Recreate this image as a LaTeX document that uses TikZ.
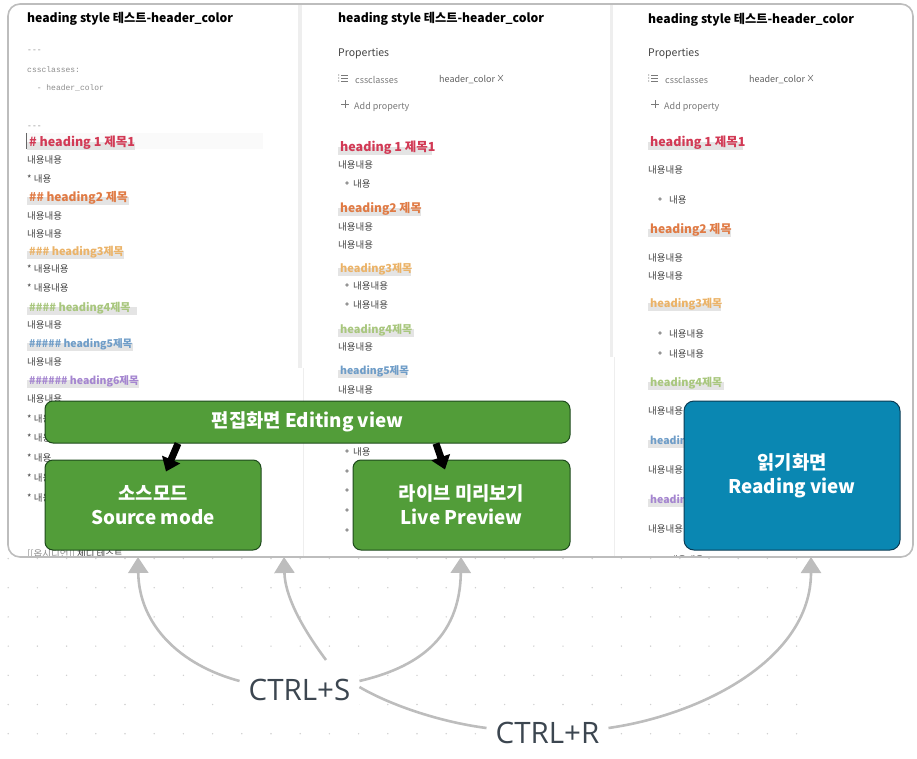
\documentclass[tikz,border=0pt]{standalone}
\usepackage{fontspec}
\setmainfont{Noto Sans CJK KR}
\setmonofont{Liberation Mono}
\newfontfamily\keyfont{Open Sans}
\usetikzlibrary{arrows.meta}
\definecolor{panelline}{HTML}{BDBDBD}
\definecolor{bandgray}{HTML}{E4E4E4}
\definecolor{bodygray}{HTML}{454545}
\definecolor{propgray}{HTML}{7A7A7A}
\definecolor{yamlgray}{HTML}{8E8E8E}
\definecolor{dotgray}{HTML}{D0D0D0}
\definecolor{scrollgray}{HTML}{EEEEEE}
\definecolor{greenfill}{HTML}{529D39}
\definecolor{greenedge}{HTML}{1E4A1C}
\definecolor{bluefill}{HTML}{0A87B2}
\definecolor{blueedge}{HTML}{0B3C55}
\definecolor{keytext}{HTML}{3C4650}
\definecolor{hone}{HTML}{D23A55}
\definecolor{htwo}{HTML}{E07B45}
\definecolor{hthree}{HTML}{EBB368}
\definecolor{hfour}{HTML}{A9C77E}
\definecolor{hfive}{HTML}{6F9DC8}
\definecolor{hsix}{HTML}{A586D0}
\tikzset{
  linetext/.style={anchor=base west,inner sep=0pt,yshift=-4.5pt},
  notetitle/.style={linetext,font=\fontsize{12.2}{15}\selectfont\bfseries,text=black},
  bodytext/.style={linetext,font=\fontsize{9.5}{11}\selectfont,text=bodygray},
  yamltext/.style={linetext,font=\fontsize{8}{10}\selectfont\ttfamily,text=yamlgray},
  proptext/.style={linetext,font=\fontsize{9}{11}\selectfont,text=propgray},
  headtext/.style={linetext,font=\fontsize{#1}{14}\selectfont\bfseries},
  modebox/.style={draw=greenedge,fill=greenfill,line width=1pt,rounded corners=8pt,text=white,
    align=center,inner sep=0pt,font=\fontsize{18.8}{24}\selectfont\bfseries},
  blockarrow/.style={black,line width=7pt,-{Triangle[length=13pt,width=19pt]}},
  keyarrow/.style={panelline,line width=2.6pt,-{Triangle[length=16pt,width=20pt]}},
  keyline/.style={panelline,line width=2.6pt},
  keynode/.style={fill=white,inner sep=9pt,text=keytext,font=\keyfont\fontsize{29.5}{32}\selectfont}
}
\begin{document}
\begin{tikzpicture}[x=1pt,y=-1pt,line cap=butt]
  \useasboundingbox (0,0) rectangle (917,759);
  % dotted canvas under the window
  \foreach \dx in {0,...,27}{
    \foreach \dy in {0,...,6}{\fill[dotgray] (125-29.2*4+29.2*\dx,558.5+29.2*\dy) circle[radius=0.8];}
  }
  \fill[white,rounded corners=12pt] (8,4) rectangle (913,557);
  % three note panes, clipped to the window
  \begin{scope}
    \clip[rounded corners=12pt] (8,4) rectangle (913,557);
    \fill[scrollgray] (298,4) rectangle (302,368);
    \fill[scrollgray] (610,4) rectangle (613,357);
    \draw[scrollgray,line width=0.8pt] (303.5,368)--(303.5,557);
    \draw[scrollgray,line width=0.8pt] (614.5,357)--(614.5,557);
    \foreach \tx/\ty [count=\i] in {27/18,338/18,648/19}{
      \node[notetitle] (title\i) at (\tx,\ty) {heading style 테스트-header\_color};
    }
    % source mode pane
    \foreach \ty/\label [count=\i] in {48/---,68/cssclasses:,86/{\ \ - header\_color},124/---}{
      \node[yamltext] (yaml\i) at (27,\ty) {\label};
    }
    \fill[black!2] (27,133) rectangle (263,149);
    \draw[black!60,line width=0.8pt] (26,133)--(26,149);
    \foreach \hy/\hw/\hfs/\hc/\label [count=\i] in {
      142/108/12.5/hone/{\# heading 1 제목1},
      197/102/12/htwo/{\#\# heading2 제목},
      251/97/11/hthree/{\#\#\# heading3제목},
      307/110/11/hfour/{\#\#\#\# heading4제목},
      343/106/10.5/hfive/{\#\#\#\#\# heading5제목},
      380/112/10.5/hsix/{\#\#\#\#\#\# heading6제목}}{
      \fill[bandgray] (27,\hy) rectangle (27+\hw,\hy+8);
      \node[headtext=\hfs,text=\hc] (srchead\i) at (29,\hy) {\label};
    }
    \foreach \ty/\label [count=\i] in {159/내용내용,178/* 내용,215/내용내용,233/내용내용,268/* 내용내용,287/* 내용내용,324/내용내용,361/내용내용,398/내용내용,418/* 내용내용,437/* 내용내용,457/* 내용,477/* 내용내용,497/* 내용내용}{
      \node[bodytext] (srcbody\i) at (27,\ty) {\label};
    }
    \node[bodytext,font=\fontsize{9.5}{11}\selectfont] (srclink) at (27,553) {\textcolor{yamlgray}{[[옵시디언]]} 체디 테스트};
    % live preview and reading panes
    \foreach \px [count=\j] in {338,648}{
      \node[linetext,font=\fontsize{10.5}{12}\selectfont,text=bodygray] (props\j) at (\px,52) {Properties};
      \foreach \ly in {75,78,81}{
        \draw[propgray,line width=0.7pt] (\px+3,\ly)--(\px+10,\ly);
        \fill[propgray] (\px+0.8,\ly) circle[radius=0.6];
      }
      \node[proptext] (csskey\j) at (\px+17,79) {cssclasses};
      \node[proptext,text=bodygray!85] (cssval\j) at (\px+101,78) {header\_color};
      \draw[propgray,line width=0.6pt] (\px+160,75)--(\px+165,81) (\px+165,75)--(\px+160,81);
      \draw[propgray,line width=0.7pt] (\px+3,104.5)--(\px+11,104.5) (\px+7,100.5)--(\px+7,108.5);
      \node[proptext] (addprop\j) at (\px+16,105) {Add property};
    }
    \foreach \hx/\hy/\hw/\hfs/\hc/\label [count=\i] in {
      338/147/94/12.5/hone/{heading 1 제목1},338/208/83/12/htwo/{heading2 제목},
      338/268/73/11/hthree/{heading3제목},338/329/76/11/hfour/{heading4제목},
      338/370/69/10.5/hfive/{heading5제목},
      648/142/95/12.5/hone/{heading 1 제목1},648/229/83/12/htwo/{heading2 제목},
      648/303/73/11/hthree/{heading3제목},648/382/76/11/hfour/{heading4제목},
      648/440/70/10.5/hfive/{heading5제목},648/499/70/10.5/hsix/{heading6제목}}{
      \fill[bandgray] (\hx,\hy) rectangle (\hx+\hw,\hy+8);
      \node[headtext=\hfs,text=\hc] (viewhead\i) at (\hx+2,\hy) {\label};
    }
    \foreach \tx/\ty [count=\i] in {338/164,338/226,338/244,338/346,338/389,648/169,648/257,648/275,648/410,648/469,648/528}{
      \node[bodytext] (viewbody\i) at (\tx,\ty) {내용내용};
    }
    \foreach \bx/\tx/\ty/\label [count=\i] in {347/353/183/내용,347/353/285/내용내용,347/353/304/내용내용,347/353/451/내용,347/353/471/내용내용,347/353/490/내용내용,347/353/510/내용내용,347/353/530/내용내용,660/669/199/내용,660/669/333/내용내용,660/669/353/내용내용,660/669/559/내용내용}{
      \fill[propgray!80] (\bx,\ty) circle[radius=1.8];
      \node[bodytext] (bullet\i) at (\tx,\ty) {\label};
    }
  \end{scope}
  \draw[panelline,line width=1.6pt,rounded corners=12pt] (8,4) rectangle (913,557);
  % view boxes
  \node[modebox,minimum width=525pt,minimum height=42pt] (editview) at (307.5,422) {편집화면 Editing view};
  \node[modebox,minimum width=216pt,minimum height=90pt] (sourcemode) at (153,505) {소스모드\\Source mode};
  \node[modebox,minimum width=217pt,minimum height=90pt] (livepreview) at (461.5,505) {라이브 미리보기\\Live Preview};
  \node[modebox,draw=blueedge,fill=bluefill,rounded corners=10pt,minimum width=216pt,minimum height=149pt] (readingview) at (792,475.5) {읽기화면\\Reading view};
  \draw[blockarrow] ([xshift=-129.5pt]editview.south)--([shift={(13,12)}]sourcemode.north);
  \draw[blockarrow] ([xshift=128.5pt]editview.south)--([shift={(-16.5,10)}]livepreview.north);
  % shortcut labels and arrows
  \node[keynode] (ctrls) at (299.5,690) {CTRL+S};
  \node[keynode] (ctrlr) at (547.5,733) {CTRL+R};
  \coordinate (sabove) at (326,660);
  \coordinate (winsource) at (138,557);
  \coordinate (winmiddle) at (284,557);
  \coordinate (winlive) at (461,557);
  \coordinate (winread) at (811,557);
  \draw[keyarrow] ([yshift=9pt]ctrls.west) .. controls (180,665) and (139,625) .. (winsource);
  \draw[keyarrow] (sabove) .. controls (300,625) and (285,595) .. (winmiddle);
  \draw[keyarrow] ([yshift=9pt]ctrls.east) .. controls (415,668) and (460,640) .. (winlive);
  \draw[keyline] ([yshift=3pt]ctrls.east) .. controls (390,705) and (440,722) .. ([yshift=5pt]ctrlr.west);
  \draw[keyarrow] ([yshift=5pt]ctrlr.east) .. controls (700,715) and (811,660) .. (winread);
\end{tikzpicture}
\end{document}
